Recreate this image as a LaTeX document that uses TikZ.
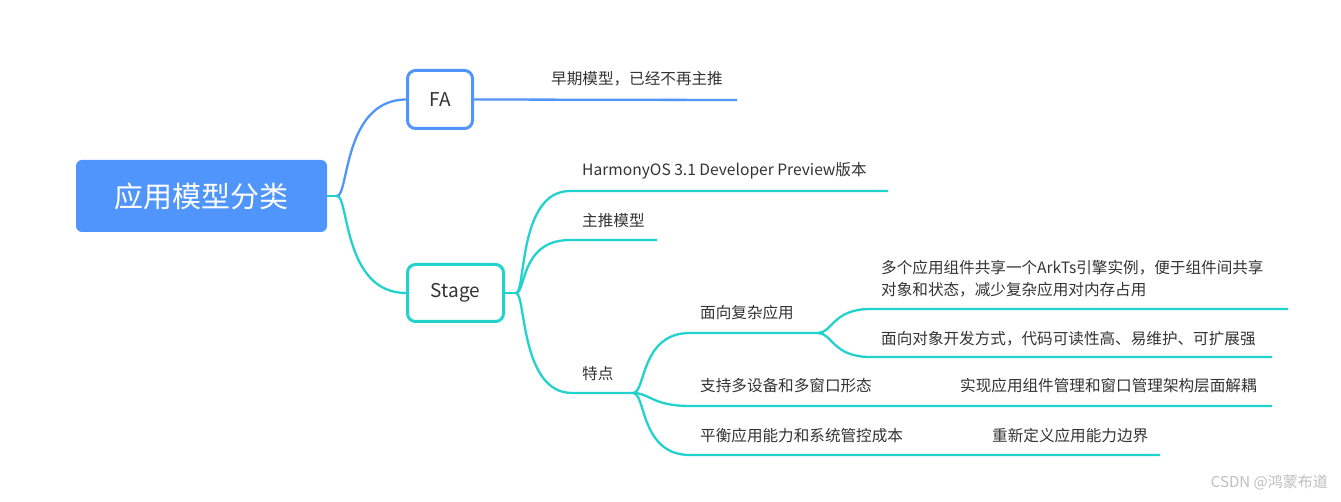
\documentclass[tikz,border=0pt]{standalone}
\usepackage{fontspec}
\newfontfamily\cjk{Noto Sans CJK SC}
\definecolor{mblue}{RGB}{80,149,252}
\definecolor{mteal}{RGB}{34,210,204}
\definecolor{mtext}{RGB}{51,51,51}
\definecolor{wm}{RGB}{190,190,190}
\tikzset{
  rootbox/.style={fill=mblue,rounded corners=6pt,minimum width=251pt,minimum height=72pt,text=white,font=\cjk\fontsize{29}{32}\selectfont,inner sep=0pt},
  fabox/.style={draw=mblue,line width=3pt,fill=white,rounded corners=8pt,minimum width=65pt,minimum height=58pt,text=mtext,font=\cjk\fontsize{19}{22}\selectfont,inner sep=0pt},
  stbox/.style={draw=mteal,line width=3pt,fill=white,rounded corners=8pt,minimum width=96pt,minimum height=57pt,text=mtext,font=\cjk\fontsize{19}{22}\selectfont,inner sep=0pt},
  lbl/.style={anchor=west,inner sep=0pt,text=mtext,font=\cjk\fontsize{15.6}{22}\selectfont},
  blueline/.style={draw=mblue,line width=2.3pt},
  tealline/.style={draw=mteal,line width=2.3pt},
}
\begin{document}
\begin{tikzpicture}[x=1pt,y=-1pt]
\useasboundingbox (0,0) rectangle (1341,502);
% boxes
\node[rootbox] (root) at (201.5,196) {应用模型分类};
\node[fabox] (fa) at (440,99.5) {FA};
\node[stbox] (stage) at (455.5,293) {Stage};
% junction coordinates
\coordinate (rj) at (337,196);
\coordinate (sj) at (516,293);
\coordinate (tj) at (633,393);
\coordinate (bj) at (818,333);
% line end coordinates
\coordinate (faend) at (737,100);
\coordinate (h1s) at (570,191); \coordinate (h1e) at (888,191);
\coordinate (h2s) at (570,240); \coordinate (h2e) at (657,240);
\coordinate (h3s) at (572,393);
\coordinate (c1s) at (690,333);
\coordinate (c2s) at (690,406); \coordinate (c2e) at (1272,406);
\coordinate (c3s) at (690,455); \coordinate (c3e) at (1160,455);
\coordinate (d1s) at (870,309); \coordinate (d1e) at (1288,309);
\coordinate (d2s) at (870,357); \coordinate (d2e) at (1272,357);

% connectors
\draw[tealline] (root.east) -- (rj);
\draw[blueline] (rj) .. controls (349,196) and (343,100) .. (fa.west);
\draw[blueline] (fa.east) -- (faend);
\draw[tealline] (rj) .. controls (349,196) and (343,293) .. (stage.west);
\draw[tealline] (stage.east) -- (sj);
\draw[tealline] (sj) .. controls (526,293) and (518,191) .. (h1s) -- (h1e);
\draw[tealline] (sj) .. controls (526,293) and (520,240) .. (h2s) -- (h2e);
\draw[tealline] (sj) .. controls (526,293) and (520,393) .. (h3s) -- (tj);
\draw[tealline] (tj) .. controls (646,393) and (640,333) .. (c1s) -- (bj);
\draw[tealline] (tj) .. controls (650,393) and (652,406) .. (c2s) -- (c2e);
\draw[tealline] (tj) .. controls (646,393) and (640,455) .. (c3s) -- (c3e);
\draw[tealline] (bj) .. controls (832,333) and (833,309) .. (d1s) -- (d1e);
\draw[tealline] (bj) .. controls (832,333) and (833,357) .. (d2s) -- (d2e);

% labels
\node[lbl] (t0) at (551,79) {早期模型，已经不再主推};
\node[lbl] (t1) at (582,171) {HarmonyOS 3.1 Developer Preview版本};
\node[lbl] (t2) at (582,221) {主推模型};
\node[lbl] (t3) at (582,374) {特点};
\node[lbl] (t4) at (700,313) {面向复杂应用};
\node[lbl] (t5) at (881,268) {多个应用组件共享一个ArkTs引擎实例，便于组件间共享};
\node[lbl] (t6) at (881,290) {对象和状态，减少复杂应用对内存占用};
\node[lbl] (t7) at (881,339) {面向对象开发方式，代码可读性高、易维护、可扩展强};
\node[lbl] (t8) at (700,386) {支持多设备和多窗口形态};
\node[lbl] (t9) at (960,386) {实现应用组件管理和窗口管理架构层面解耦};
\node[lbl] (t10) at (700,436) {平衡应用能力和系统管控成本};
\node[lbl] (t11) at (992,436) {重新定义应用能力边界};
\node[lbl,anchor=east,text=wm,font=\cjk\fontsize{15}{18}\selectfont] (wmk) at (1328,482) {CSDN @鸿蒙布道};
\end{tikzpicture}
\end{document}
